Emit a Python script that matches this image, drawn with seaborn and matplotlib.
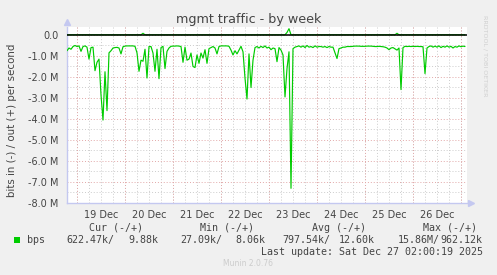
import numpy as np
import pandas as pd
import matplotlib
matplotlib.use("Agg")
import matplotlib.pyplot as plt
import matplotlib.dates as mdates
from matplotlib.ticker import MultipleLocator, FuncFormatter
from matplotlib.patches import Rectangle
import seaborn as sns

# ---------------- data (values in M bits/s, hourly from 18 Dec 19:00) ----------------
start_time = "2025-12-18 19:00"
inbound = [
    -0.75, -0.62, -0.68, -0.55, -0.50, -0.55, -0.52, -0.78, -0.55, -0.52,
    -0.58, -1.15, -0.60, -0.58, -1.70, -1.30, -1.15, -2.85, -4.05, -1.75,
    -3.60, -0.85, -0.75, -0.62, -0.60, -0.59, -0.62, -0.90, -0.56, -0.53,
    -0.52, -0.52, -0.52, -0.52, -0.54, -0.85, -1.73, -1.20, -1.25, -0.68,
    -2.05, -0.55, -0.55, -0.86, -1.73, -0.68, -2.08, -0.60, -0.54, -1.60,
    -0.78, -0.62, -0.54, -0.53, -0.53, -0.52, -0.53, -0.55, -1.30, -0.58,
    -1.20, -1.15, -0.86, -1.50, -1.55, -0.95, -1.35, -0.86, -1.10, -0.70,
    -1.35, -0.65, -0.60, -0.55, -0.62, -0.90, -0.55, -0.52, -0.52, -0.52,
    -0.52, -0.54, -0.72, -0.95, -0.75, -0.90, -0.72, -0.54, -0.80, -2.05,
    -3.05, -0.90, -2.50, -1.20, -0.60, -0.55, -0.62, -0.54, -0.60, -0.52,
    -0.62, -0.58, -0.70, -0.62, -0.65, -1.27, -0.60, -0.72, -0.95, -2.95,
    -1.60, -0.80, -7.30, -0.65, -0.58, -0.55, -0.52, -0.58, -0.52, -0.60,
    -0.50, -0.58, -0.55, -0.60, -0.52, -0.58, -0.55, -0.55, -0.58, -0.55,
    -0.60, -0.55, -0.58, -0.58, -0.85, -1.12, -0.65, -0.62, -0.58, -0.58,
    -0.55, -0.55, -0.55, -0.54, -0.53, -0.53, -0.53, -0.54, -0.54, -0.54,
    -0.53, -0.53, -0.53, -0.54, -0.55, -0.55, -0.54, -0.55, -0.56, -0.58,
    -0.62, -0.70, -0.62, -0.60, -0.66, -0.72, -0.62, -2.60, -0.60, -0.54,
    -0.55, -0.54, -0.55, -0.54, -0.55, -0.54, -0.55, -0.55, -0.56, -1.84,
    -0.62, -0.55, -0.52, -0.58, -0.53, -0.58, -0.52, -0.60, -0.54, -0.58,
    -0.52, -0.58, -0.54, -0.62, -0.55, -0.58, -0.52, -0.56, -0.53, -0.55,
]
outbound = [
    0.01, 0.01, 0.01, 0.01, 0.01, 0.01, 0.01, 0.01, 0.01, 0.01,
    0.01, 0.01, 0.01, 0.01, 0.01, 0.01, 0.01, 0.01, 0.01, 0.01,
    0.01, 0.01, 0.01, 0.01, 0.01, 0.01, 0.01, 0.01, 0.01, 0.01,
    0.01, 0.01, 0.01, 0.01, 0.01, 0.01, 0.01, 0.01, 0.08, 0.01,
    0.01, 0.01, 0.01, 0.01, 0.01, 0.01, 0.01, 0.01, 0.01, 0.01,
    0.01, 0.01, 0.01, 0.01, 0.01, 0.01, 0.01, 0.01, 0.01, 0.01,
    0.01, 0.01, 0.01, 0.01, 0.01, 0.01, 0.01, 0.01, 0.01, 0.01,
    0.01, 0.01, 0.01, 0.01, 0.01, 0.01, 0.01, 0.01, 0.01, 0.01,
    0.01, 0.01, 0.01, 0.01, 0.01, 0.01, 0.01, 0.01, 0.01, 0.01,
    0.01, 0.01, 0.01, 0.01, 0.01, 0.01, 0.01, 0.01, 0.01, 0.01,
    0.01, 0.01, 0.01, 0.01, 0.01, 0.01, 0.01, 0.01, 0.01, 0.01,
    0.12, 0.30, 0.01, 0.01, 0.01, 0.01, 0.01, 0.01, 0.01, 0.01,
    0.01, 0.01, 0.01, 0.01, 0.01, 0.01, 0.01, 0.01, 0.01, 0.01,
    0.01, 0.01, 0.01, 0.01, 0.01, 0.01, 0.01, 0.01, 0.01, 0.01,
    0.01, 0.01, 0.01, 0.01, 0.01, 0.01, 0.01, 0.01, 0.01, 0.01,
    0.01, 0.01, 0.01, 0.01, 0.01, 0.01, 0.01, 0.01, 0.01, 0.01,
    0.01, 0.01, 0.01, 0.01, 0.01, 0.08, 0.01, 0.01, 0.01, 0.01,
    0.01, 0.01, 0.01, 0.01, 0.01, 0.01, 0.01, 0.01, 0.01, 0.01,
    0.01, 0.01, 0.01, 0.01, 0.01, 0.01, 0.01, 0.01, 0.01, 0.01,
    0.01, 0.01, 0.01, 0.01, 0.01, 0.01, 0.01, 0.01, 0.01, 0.01,
]
legend_headers = ["Cur (-/+)", "Min (-/+)", "Avg (-/+)", "Max (-/+)"]
legend_in = ["622.47k/", "27.09k/", "797.54k/", "15.86M/"]
legend_out = ["9.88k", "8.06k", "12.60k", "962.12k"]
series_name = "bps"
title = "mgmt traffic - by week"
ylabel = "bits in (-) / out (+) per second"
last_update = "Last update: Sat Dec 27 02:00:19 2025"
footer = "Munin 2.0.76"
side_text = "RRDTOOL / TOBI OETIKER"

# ---------------- styling ----------------
sns.set_theme(style="white")
plt.rcParams["font.family"] = ["DejaVu Sans"]

W, H = 497, 275
BG = "#F0F0F0"
GREEN = "#00CC00"
TXT = "#444444"
AXC = "#c4c8f0"
MAJ = "#e2a8a8"
MIN = "#cccccc"

fig = plt.figure(figsize=(W / 100, H / 100), dpi=100, facecolor=BG)
ax = fig.add_axes([67 / W, 1 - 203 / H, 400 / W, 176 / H])
ax.set_facecolor("white")

times = pd.date_range(start_time, periods=len(inbound), freq="h")
df = pd.DataFrame({"time": times, "in": inbound, "out": outbound})

sns.lineplot(data=df, x="time", y="out", color=GREEN, lw=0.85, ax=ax, zorder=3)
sns.lineplot(data=df, x="time", y="in", color=GREEN, lw=0.85, ax=ax, zorder=3)
ax.axhline(0, color="black", lw=1.1, zorder=4)

t0 = pd.Timestamp(start_time)
ax.set_xlim(t0, t0 + pd.Timedelta(hours=200))
ax.set_ylim(-8.0, 0.38)

dot = (0, (1, 2))
# y grid
ax.yaxis.set_major_locator(MultipleLocator(1.0))
ax.yaxis.set_minor_locator(MultipleLocator(0.5))
ax.yaxis.set_major_formatter(FuncFormatter(lambda v, p: "0.0" if abs(v) < 1e-9 else f"{v:.1f} M"))
ax.grid(True, which="major", axis="y", color=MAJ, ls=dot, lw=0.7)
ax.grid(True, which="minor", axis="y", color=MIN, ls=dot, lw=0.7)

# x grid: labels at noon, grey every 6h, red at midnight
ax.xaxis.set_major_locator(mdates.HourLocator(byhour=[12]))
ax.xaxis.set_major_formatter(mdates.DateFormatter("%d %b"))
ax.xaxis.set_minor_locator(mdates.HourLocator(byhour=[0, 6, 18]))
ax.grid(True, which="major", axis="x", color=MIN, ls=dot, lw=0.7)
ax.grid(True, which="minor", axis="x", color=MIN, ls=dot, lw=0.7)
for d in pd.date_range("2025-12-19", "2025-12-27", freq="D"):
    ax.axvline(d, color=MAJ, ls=dot, lw=0.7, zorder=1)
ax.set_axisbelow(True)

ax.tick_params(axis="x", which="both", length=0, pad=5, labelsize=7, labelcolor=TXT)
ax.tick_params(axis="y", which="both", length=0, pad=6, labelsize=7, labelcolor=TXT)
ax.set_xlabel("")
ax.set_ylabel("")

for s in ["top", "right"]:
    ax.spines[s].set_visible(False)
for s in ["left", "bottom"]:
    ax.spines[s].set_color(AXC)
    ax.spines[s].set_linewidth(1.0)
ax.plot([0], [1 + 5 / 176], marker="^", ms=4, color=AXC, transform=ax.transAxes, clip_on=False)
ax.plot([1 + 4 / 400], [0], marker=">", ms=4, color=AXC, transform=ax.transAxes, clip_on=False)

# ---------------- texts ----------------
fig.text(249 / W, 1 - 19 / H, title, ha="center", va="center", fontsize=9.2, color=TXT)
fig.text(12 / W, 1 - 120 / H, ylabel, ha="center", va="center", rotation=90, fontsize=7.4, color=TXT)
fig.text(485 / W, 1 - 56 / H, side_text, ha="center", va="center", rotation=270, fontsize=4.6, color="#d0d0d0")

mono = "DejaVu Sans Mono"
ms = 7.2
header_x = [116, 227, 338.5, 450]
for hx, htxt in zip(header_x, legend_headers):
    fig.text(hx / W, 1 - 228 / H, htxt, ha="center", va="center", family=mono, fontsize=ms, color=TXT)

fig.patches.append(Rectangle((14 / W, 1 - 243 / H), 6 / W, 6 / H, transform=fig.transFigure,
                             facecolor=GREEN, edgecolor="none"))
fig.text(26.7 / W, 1 - 240 / H, series_name, ha="left", va="center", family=mono, fontsize=ms, color=TXT)
in_x = [66.7, 180.7, 282.7, 397.3]
out_x = [158, 265.7, 374.3, 482.7]
for ix, ox, itxt, otxt in zip(in_x, out_x, legend_in, legend_out):
    fig.text(ix / W, 1 - 240 / H, itxt, ha="left", va="center", family=mono, fontsize=ms, color=TXT)
    fig.text(ox / W, 1 - 240 / H, otxt, ha="right", va="center", family=mono, fontsize=ms, color=TXT)
fig.text(482.7 / W, 1 - 252 / H, last_update, ha="right", va="center", family=mono, fontsize=ms, color=TXT)
fig.text(248 / W, 1 - 264 / H, footer, ha="center", va="center", fontsize=5.5, color="#cccccc")

fig.savefig("out.png", dpi=100, facecolor=BG)
